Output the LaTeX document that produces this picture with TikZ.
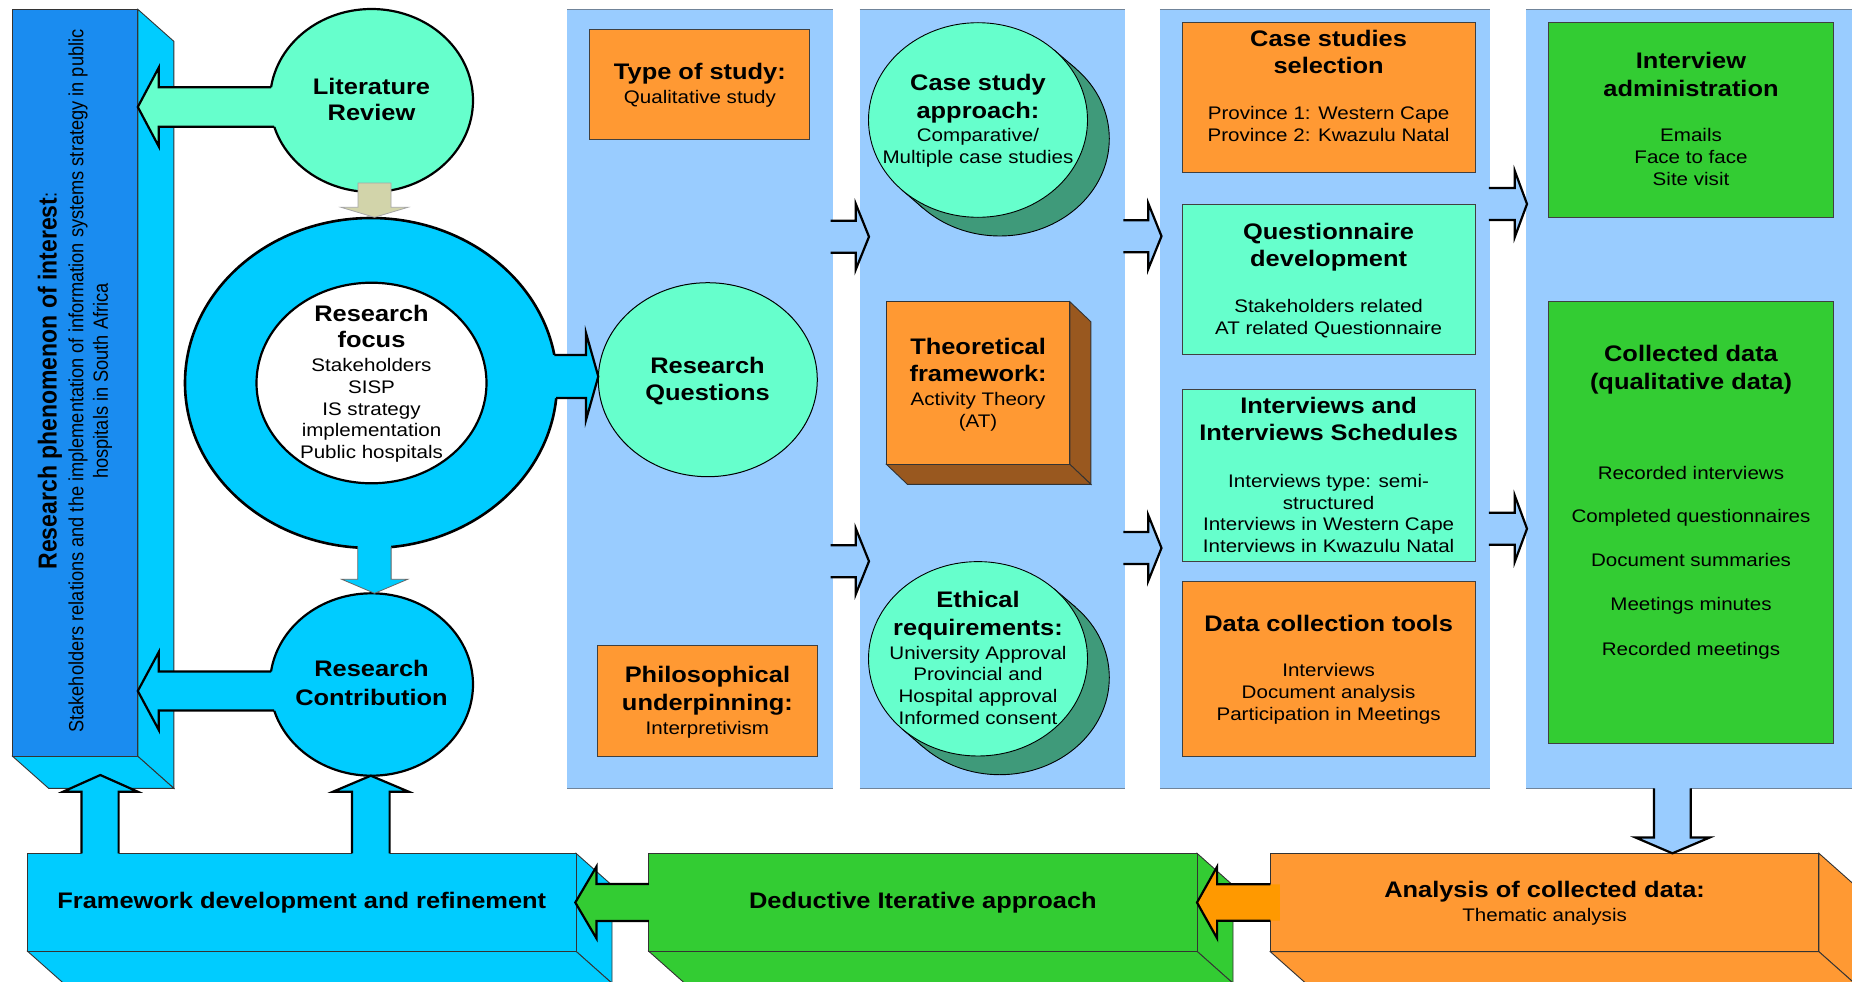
\documentclass[tikz,border=0pt]{standalone}
\usepackage{fontspec}
\usepackage{graphicx}
\setmainfont{Liberation Sans}[FakeStretch=1.13]
\newfontfamily\plainsans{Liberation Sans}

\definecolor{panelblue}{HTML}{99CCFF}
\definecolor{skycyan}{HTML}{00CCFF}
\definecolor{deepblue}{HTML}{1A8CF0}
\definecolor{mint}{HTML}{66FFCC}
\definecolor{orangebox}{HTML}{FF9933}
\definecolor{brownside}{HTML}{99581F}
\definecolor{darkmint}{HTML}{3F9A7A}
\definecolor{grassgreen}{HTML}{33CC33}
\definecolor{khaki}{HTML}{D2D4AA}
\definecolor{deeporange}{HTML}{FF9900}
\definecolor{panelline}{HTML}{70849A}

% centred stack of lines whose first baseline is the box baseline
\newcommand\mlines[1]{\vtop{\baselineskip=21.7pt\lineskiplimit=-100pt\lineskip=0pt\halign{\hfil##\hfil\cr#1\crcr}}}
\newcommand\hdl[1]{{\fontsize{22.5}{26}\selectfont\bfseries #1}}
\newcommand\vgap[1]{\cr\noalign{\vskip#1pt}}

% open right-pointing arrow between two columns: shaft start, head base, tip, centre line
\newcommand\panelarrow[4]{%
  \fill[panelblue] (#1,#4-16) -- (#2,#4-16) -- (#2,#4-33) -- (#3,#4) -- (#2,#4+33) -- (#2,#4+16) -- (#1,#4+16) -- cycle;
  \draw[blockarrow] (#1,#4-16) -- (#2,#4-16) -- (#2,#4-33) -- (#3,#4) -- (#2,#4+33) -- (#2,#4+16) -- (#1,#4+16);}

\tikzset{
  blockarrow/.style={draw=black, line width=2.2pt, line join=miter},
  slimarrow/.style={draw=black!60, line width=0.8pt, line join=miter},
  boxline/.style={draw=black!75, line width=0.9pt},
  faceline/.style={draw=black!80, line width=0.9pt},
  lbl/.style={anchor=base, inner sep=0pt, outer sep=0pt, font=\fontsize{18.2}{21.7}\selectfont},
}

\begin{document}
\begin{tikzpicture}[x=1pt, y=-1pt]
\useasboundingbox (0,0) rectangle (1852,982);
\clip (0,0) rectangle (1852,982);
\fill[white] (0,0) rectangle (1852,982);

% ---- four light-blue columns ----
\foreach \a/\b in {567/832.5, 859.7/1124.9, 1159.8/1490.2, 1526/1862} {
  \fill[panelblue] (\a,9.3) rectangle (\b,788.3);
  \draw[panelline, line width=1pt] (\a,9.3) -- (\b,9.3) (\a,788.3) -- (\b,788.3);
}

% ---- extruded box on the left ----
\filldraw[fill=skycyan, faceline] (137.8,9.3) -- (173.8,41.3) -- (173.8,788.3) -- (137.8,756.3) -- cycle;
\filldraw[fill=skycyan, faceline] (12.6,756.3) -- (137.8,756.3) -- (173.8,788.3) -- (48.6,788.3) -- cycle;
\filldraw[fill=deepblue, faceline] (12.6,9.3) rectangle (137.8,756.3);

% ---- literature, focus ring, contribution ----
\filldraw[fill=mint, draw=black, line width=2.2pt] (371.5,100.5) ellipse [x radius=101.5, y radius=91.5];
\filldraw[fill=skycyan, draw=black, line width=2.6pt] (371,383) ellipse [x radius=186, y radius=165];
\filldraw[fill=white, draw=black, line width=2.2pt] (371.5,383) ellipse [x radius=115, y radius=100.3];
\filldraw[fill=skycyan, draw=black, line width=2.2pt] (371.5,684.5) ellipse [x radius=101.5, y radius=91.2];

% literature -> phenomenon
\fill[mint] (137.8,107) -- (158.8,67.5) -- (158.8,87.3) -- (290,87.3) -- (290,126.7) -- (158.8,126.7) -- (158.8,146.5) -- cycle;
\draw[blockarrow] (271.1,87.3) -- (158.8,87.3) -- (158.8,67.5) -- (137.8,107) -- (158.8,146.5) -- (158.8,126.7) -- (274.2,126.7);
% contribution -> phenomenon
\fill[skycyan] (137.8,691) -- (158.8,652) -- (158.8,671.5) -- (290,671.5) -- (290,710.5) -- (158.8,710.5) -- (158.8,730) -- cycle;
\draw[blockarrow] (271,671.5) -- (158.8,671.5) -- (158.8,652) -- (137.8,691) -- (158.8,730) -- (158.8,710.5) -- (274.2,710.5);
% literature -> focus
\filldraw[fill=khaki, draw=black!35, line width=0.8pt, line join=miter] (358,183) -- (391,183) -- (391,207.3) -- (408,207.3) -- (374.5,217.3) -- (341,207.3) -- (358,207.3) -- cycle;
% focus -> contribution
\fill[skycyan] (357.8,541) -- (357.8,579.3) -- (341.8,579.3) -- (374.5,593.3) -- (407.6,579.3) -- (391.1,579.3) -- (391.1,541) -- cycle;
\draw[slimarrow] (357.8,547) -- (357.8,579.3) -- (341.8,579.3) -- (374.5,593.3) -- (407.6,579.3) -- (391.1,579.3) -- (391.1,547);

% ---- first column ----
\filldraw[fill=orangebox, boxline] (589.9,29.3) rectangle (809.9,139.3);
\filldraw[fill=mint, draw=black, line width=1pt] (707.8,379.7) ellipse [x radius=109.5, y radius=97];
\filldraw[fill=orangebox, boxline] (597.5,645.7) rectangle (817.2,756);
% focus -> questions
\fill[skycyan] (540,355) -- (586,355) -- (586,333) -- (598.3,376.5) -- (586,420) -- (586,398) -- (540,398) -- cycle;
\draw[blockarrow] (554.3,355) -- (586,355) -- (586,333) -- (598.3,376.5) -- (586,420) -- (586,398) -- (556.2,398);

% ---- second column ----
% case study approach (extruded disc)
\filldraw[fill=darkmint, draw=black, line width=0.9pt] (999.8,138.7) ellipse [x radius=109.5, y radius=97.3];
\fill[darkmint] (1054.1,50) -- (1075.9,68.7) -- (923.7,208.7) -- (901.9,190) -- cycle;
\draw[line width=0.9pt] (1054.1,50) -- (1075.9,68.7) (901.9,190) -- (923.7,208.7);
\filldraw[fill=mint, draw=black, line width=0.9pt] (978,120) ellipse [x radius=109.5, y radius=97.3];
% theoretical framework (extruded block)
\filldraw[fill=brownside, faceline] (1069.8,301.7) -- (1090.8,321.7) -- (1090.8,484.3) -- (1069.8,464.3) -- cycle;
\filldraw[fill=brownside, faceline] (886.4,464.3) -- (1069.8,464.3) -- (1090.8,484.3) -- (907.4,484.3) -- cycle;
\filldraw[fill=orangebox, faceline] (886.4,301.7) rectangle (1069.8,464.3);
% ethical requirements (extruded disc)
\filldraw[fill=darkmint, draw=black, line width=0.9pt] (999.8,677.5) ellipse [x radius=109.5, y radius=97.2];
\fill[darkmint] (1054.1,588.8) -- (1075.9,607.5) -- (923.7,747.5) -- (901.9,728.8) -- cycle;
\draw[line width=0.9pt] (1054.1,588.8) -- (1075.9,607.5) (901.9,728.8) -- (923.7,747.5);
\filldraw[fill=mint, draw=black, line width=0.9pt] (978,658.8) ellipse [x radius=109.5, y radius=97.2];

% ---- third column ----
\filldraw[fill=orangebox, boxline] (1182.2,22.7) rectangle (1475,172.3);
\filldraw[fill=mint, boxline] (1182.2,204.3) rectangle (1475,354);
\filldraw[fill=mint, boxline] (1182.2,389.3) rectangle (1475,561);
\filldraw[fill=orangebox, boxline] (1182.2,581.7) rectangle (1475,756);

% ---- fourth column ----
\filldraw[fill=grassgreen, boxline] (1548.4,22.7) rectangle (1833.5,217.3);
\filldraw[fill=grassgreen, boxline] (1548.4,301.7) rectangle (1833.5,743.3);

% ---- arrows between columns ----
\panelarrow{830.7}{855.7}{869}{236.7}
\panelarrow{830.7}{855.7}{869}{561.3}
\panelarrow{1123.3}{1148.2}{1161.5}{236.2}
\panelarrow{1123.3}{1148.2}{1161.5}{548}
\panelarrow{1488.9}{1514.8}{1527}{204}
\panelarrow{1488.9}{1514.8}{1527}{528.7}

% ---- bottom row of extruded blocks ----
\filldraw[fill=skycyan, faceline] (576,853.3) -- (612,885.3) -- (612,983.3) -- (576,951.3) -- cycle;
\filldraw[fill=skycyan, faceline] (27.6,951.3) -- (576,951.3) -- (612,983.3) -- (63.6,983.3) -- cycle;
\filldraw[fill=skycyan, faceline] (27.6,853.3) rectangle (576,951.3);

\filldraw[fill=grassgreen, faceline] (1197,853.3) -- (1233,885.3) -- (1233,983.3) -- (1197,951.3) -- cycle;
\filldraw[fill=grassgreen, faceline] (648.8,951.3) -- (1197,951.3) -- (1233,983.3) -- (684.8,983.3) -- cycle;
\filldraw[fill=grassgreen, faceline] (648.8,853.3) rectangle (1197,951.3);

\filldraw[fill=orangebox, faceline] (1818.9,853.3) -- (1854.9,885.3) -- (1854.9,983.7) -- (1818.9,951.7) -- cycle;
\filldraw[fill=orangebox, faceline] (1270.3,951.7) -- (1818.9,951.7) -- (1854.9,983.7) -- (1306.3,983.7) -- cycle;
\filldraw[fill=orangebox, faceline] (1270.3,853.3) rectangle (1818.9,951.7);

% framework -> phenomenon, framework -> contribution
\fill[skycyan] (81.5,860) -- (81.5,791.7) -- (63.1,791.7) -- (100.3,775) -- (137.8,791.7) -- (118.6,791.7) -- (118.6,860) -- cycle;
\draw[blockarrow] (81.5,853.3) -- (81.5,791.7) -- (63.1,791.7) -- (100.3,775) -- (137.8,791.7) -- (118.6,791.7) -- (118.6,853.3);
\fill[skycyan] (352,860) -- (352,791.7) -- (333,791.7) -- (370.8,775.7) -- (408.7,791.7) -- (389.6,791.7) -- (389.6,860) -- cycle;
\draw[blockarrow] (352,853.3) -- (352,791.7) -- (333,791.7) -- (370.8,775.7) -- (408.7,791.7) -- (389.6,791.7) -- (389.6,853.3);
% deductive -> framework
\fill[grassgreen] (575.3,902.5) -- (596.4,866.7) -- (596.4,884) -- (655,884) -- (655,921) -- (596.4,921) -- (596.4,938.3) -- cycle;
\draw[blockarrow] (648.8,884) -- (596.4,884) -- (596.4,866.7) -- (575.3,902.5) -- (596.4,938.3) -- (596.4,921) -- (648.8,921);
% analysis -> deductive
\fill[deeporange] (1197,902.5) -- (1217.1,866.7) -- (1217.1,884.3) -- (1279.8,884.3) -- (1279.8,920.7) -- (1217.1,920.7) -- (1217.1,938.3) -- cycle;
\draw[blockarrow] (1270.3,884.3) -- (1217.1,884.3) -- (1217.1,866.7) -- (1197,902.5) -- (1217.1,938.3) -- (1217.1,920.7) -- (1270.3,920.7);
% collected data -> analysis
\fill[panelblue] (1654,785) -- (1654,837.5) -- (1635.5,837.5) -- (1672.4,853.3) -- (1709.7,837.5) -- (1690.7,837.5) -- (1690.7,785) -- cycle;
\draw[blockarrow] (1654,788.3) -- (1654,837.5) -- (1635.5,837.5) -- (1672.4,853.3) -- (1709.7,837.5) -- (1690.7,837.5) -- (1690.7,788.3);

% ---- texts ----
\node[lbl, rotate=90] (phen) at (56.7,381) {\scalebox{1}[1.13]{\plainsans\mlines{{\fontsize{23}{26}\selectfont\bfseries Research phenomenon of interest}:\vgap{1.9}Stakeholders relations and the implementation of information systems strategy in public\cr hospitals in South Africa}}};

\node[lbl] (lit) at (371.5,94) {\mlines{\hdl{Literature}\vgap{4.3}\hdl{Review}}};
\node[lbl] (focus) at (371.5,321.7) {\mlines{\hdl{Research}\vgap{3.9}\hdl{focus}\vgap{2.7}Stakeholders\cr SISP\cr IS strategy\cr implementation\cr Public hospitals}};
\node[lbl] (contrib) at (371.5,676.7) {\mlines{\hdl{Research}\vgap{6.6}\hdl{Contribution}}};

\node[lbl] (study) at (699.9,80) {\mlines{\hdl{Type of study:}\vgap{2.3}Qualitative study}};
\node[lbl] (rq) at (707.5,373.3) {\mlines{\hdl{Research}\vgap{5}\hdl{Questions}}};
\node[lbl] (philo) at (707.4,682.3) {\mlines{\hdl{Philosophical}\vgap{6}\hdl{underpinning:}\vgap{2.3}Interpretivism}};

\node[lbl] (casea) at (978,90.7) {\mlines{\hdl{Case study}\vgap{5.9}\hdl{approach:}\vgap{1.7}Comparative/\cr Multiple case studies}};
\node[lbl] (theory) at (978.1,354) {\mlines{\hdl{Theoretical}\vgap{5.3}\hdl{framework:}\vgap{2.3}Activity Theory\vgap{1}(AT)}};
\node[lbl] (ethic) at (978,607.7) {\mlines{\hdl{Ethical}\vgap{5.6}\hdl{requirements:}\vgap{2.3}University Approval\cr Provincial and\cr Hospital approval\cr Informed consent}};

\node[lbl] (casesel) at (1328.6,46.7) {\mlines{\hdl{Case studies}\vgap{5.6}\hdl{selection}\vgap{24.3}Province 1: Western Cape\cr Province 2: Kwazulu Natal}};
\node[lbl] (quest) at (1328.6,239) {\mlines{\hdl{Questionnaire}\vgap{6}\hdl{development}\vgap{23.9}Stakeholders related\cr AT related Questionnaire}};
\node[lbl] (intv) at (1328.6,413.3) {\mlines{\hdl{Interviews and}\vgap{5.7}\hdl{Interviews Schedules}\vgap{24.9}Interviews type: semi-\cr structured\cr Interviews in Western Cape\cr Interviews in Kwazulu Natal}};
\node[lbl] (tools) at (1328.6,631.7) {\mlines{\hdl{Data collection tools}\vgap{23.3}Interviews\cr Document analysis\cr Participation in Meetings}};

\node[lbl] (admin) at (1691,68.3) {\mlines{\hdl{Interview}\vgap{6.7}\hdl{administration}\vgap{23.3}Emails\cr Face to face\cr Site visit}};
\node[lbl] (collected) at (1691,361.7) {\mlines{\hdl{Collected data}\vgap{5.6}\hdl{(qualitative data)}\vgap{68.3}Recorded interviews\vgap{21.6}Completed questionnaires\vgap{22.7}Document summaries\vgap{22.3}Meetings minutes\vgap{22.6}Recorded meetings}};

\node[lbl] (frame) at (301.8,908.3) {\hdl{Framework development and refinement}};
\node[lbl] (deduct) at (922.9,908.3) {\hdl{Deductive Iterative approach}};
\node[lbl] (analysis) at (1544.6,897.3) {\mlines{\hdl{Analysis of collected data:}\vgap{2.7}Thematic analysis}};
\end{tikzpicture}
\end{document}
